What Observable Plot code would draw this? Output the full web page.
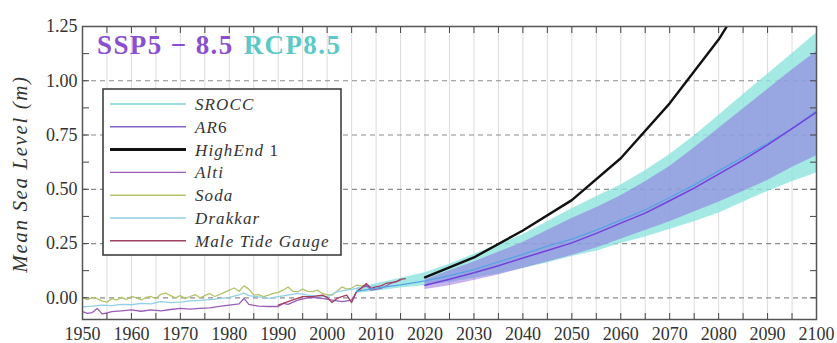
<!DOCTYPE html>
<html>
<head>
<meta charset="utf-8">
<script src="https://cdn.jsdelivr.net/npm/d3@7"></script>
<script src="https://cdn.jsdelivr.net/npm/@observablehq/plot@0.6"></script>
<style>
  body { margin: 0; background: #fff; }
  svg { display: block; }
</style>
</head>
<body>
<div id="chart"></div>
<script>
// ---- Observed / reanalysis sea level (m) ----
const sodaYears = [1950,1951,1952,1953,1954,1955,1956,1957,1958,1959,1960,1961,1962,1963,1964,1965,1966,1967,1968,1969,1970,1971,1972,1973,1974,1975,1976,1977,1978,1979,1980,1981,1982,1983,1984,1985,1986,1987,1988,1989,1990,1991,1992,1993,1994,1995,1996,1997,1998,1999,2000,2001,2002,2003,2004,2005,2006,2007,2008];
const sodaValues = [0.000,-0.008,0.002,-0.004,-0.015,-0.020,-0.004,-0.010,0.002,-0.008,0.006,0.000,-0.010,0.002,0.006,-0.004,0.016,0.022,0.010,0.000,0.010,-0.004,0.006,0.015,0.000,0.010,0.020,0.006,0.015,0.025,0.035,0.045,0.030,0.055,0.040,0.012,0.015,0.005,0.012,0.020,0.025,0.035,0.050,0.030,0.028,0.040,0.030,0.028,0.035,0.020,0.014,0.012,0.030,0.050,0.040,0.045,0.058,0.055,0.058];

const drakkarYears = [1950,1952,1954,1956,1958,1960,1962,1964,1966,1968,1970,1972,1974,1976,1978,1980,1982,1983,1984,1986,1988,1990,1992,1994,1996,1998,2000,2002,2004,2006,2008,2010];
const drakkarValues = [-0.042,-0.038,-0.034,-0.036,-0.030,-0.032,-0.026,-0.028,-0.018,-0.022,-0.020,-0.014,-0.012,-0.008,-0.004,0.002,0.014,0.022,0.010,0.004,-0.003,0.005,0.012,0.020,0.012,0.008,0.005,0.028,0.035,0.043,0.050,0.055];

const altiYears = [1950,1951,1952,1953,1954,1955,1956,1958,1960,1962,1964,1966,1968,1970,1972,1974,1976,1978,1980,1982,1983,1984,1985,1986,1988,1990,1991,1992,1994,1996,1997,1999,2001,2003,2005,2006,2007,2008,2009,2011,2013,2015];
const altiValues = [-0.064,-0.072,-0.068,-0.049,-0.074,-0.070,-0.064,-0.060,-0.056,-0.062,-0.056,-0.060,-0.054,-0.049,-0.052,-0.049,-0.046,-0.040,-0.034,-0.028,-0.003,-0.030,-0.035,-0.038,-0.040,-0.040,-0.026,-0.030,-0.011,0.000,0.002,-0.003,-0.011,-0.018,-0.011,0.028,0.045,0.058,0.035,0.043,0.066,0.081];

const maleYears = [1990,1991,1992,1993,1995,1997,1999,2000,2001,2002,2003,2004,2005,2006,2007,2008,2009,2010,2011,2012,2013,2014,2015,2016];
const maleValues = [-0.034,-0.026,-0.018,-0.010,0.005,0.005,0.012,0.002,-0.022,-0.003,0.005,0.012,-0.022,0.028,0.045,0.066,0.043,0.050,0.055,0.066,0.070,0.073,0.085,0.088];

// ---- Projections (m) ----
const sroccYears = [2006,2010,2015,2020,2025,2030,2035,2040,2045,2050,2055,2060,2065,2070,2075,2080,2085,2090,2095,2100];
const sroccMedian = [0.030,0.045,0.060,0.078,0.102,0.130,0.165,0.200,0.238,0.270,0.312,0.358,0.405,0.462,0.520,0.585,0.648,0.712,0.780,0.860];
const sroccLow = [0.020,0.030,0.045,0.055,0.070,0.090,0.110,0.135,0.160,0.190,0.215,0.250,0.280,0.315,0.350,0.390,0.440,0.490,0.535,0.575];
const sroccHigh = [0.045,0.065,0.090,0.115,0.155,0.200,0.245,0.290,0.350,0.410,0.465,0.520,0.585,0.660,0.745,0.840,0.935,1.030,1.125,1.220];

const ar6Years = [2020,2025,2030,2035,2040,2045,2050,2055,2060,2065,2070,2075,2080,2085,2090,2095,2100];
const ar6Median = [0.058,0.085,0.115,0.148,0.183,0.218,0.253,0.297,0.344,0.390,0.447,0.505,0.570,0.634,0.705,0.780,0.855];
const ar6Low = [0.038,0.055,0.080,0.105,0.135,0.165,0.195,0.230,0.270,0.310,0.350,0.395,0.440,0.490,0.540,0.600,0.655];
const ar6High = [0.082,0.125,0.165,0.210,0.255,0.310,0.365,0.415,0.470,0.535,0.605,0.690,0.780,0.870,0.960,1.050,1.135];

const highEndYears = [2020,2030,2040,2050,2060,2070,2080,2090,2100];
const highEndValues = [0.094,0.186,0.310,0.450,0.643,0.896,1.190,1.550,1.950];

// ---- Axis ticks ----
const xTickLabels = d3.range(1950, 2101, 10);
const xTickMarks = d3.range(1950, 2101, 5);
const yTickLabels = [0, 0.25, 0.5, 0.75, 1.0, 1.25];
const yTickMarks = d3.range(0, 1.2501, 0.125);
const yGrid = [0, 0.25, 0.5, 0.75, 1.0];

// ---- Colours ----
const colors = {
  srocc: "#7dd4d6", sroccBand: "#8fe3de", sroccLine: "#5aa2e6",
  ar6: "#8466c8", ar6Band: "#8a5ee0", ar6Line: "#7440dc",
  highEnd: "#111111", alti: "#9a5cb8", soda: "#b3c46a",
  drakkar: "#92cfe9", male: "#a0405e"
};

const rows = (ys, vs) => ys.map((year, i) => ({year, value: vs[i]}));
const bands = (ys, lo, hi) => ys.map((year, i) => ({year, lo: lo[i], hi: hi[i]}));

const serif = "'Liberation Serif', 'DejaVu Serif', serif";

const chart = Plot.plot({
  width: 837,
  height: 343,
  marginLeft: 82,
  marginRight: 21,
  marginTop: 26,
  marginBottom: 24,
  style: {fontFamily: serif, fontSize: "18px", color: "#333", background: "#fff"},
  x: {domain: [1950, 2100]},
  y: {domain: [-0.1, 1.25]},
  marks: [
    Plot.gridX({ticks: xTickMarks, stroke: "#dcdcdc", strokeOpacity: 1, strokeWidth: 1}),
    Plot.gridY({ticks: yGrid, stroke: "#8c8c8c", strokeOpacity: 1, strokeWidth: 1.2, strokeDasharray: "5,4"}),
    Plot.areaY(bands(sroccYears, sroccLow, sroccHigh), {x: "year", y1: "lo", y2: "hi", fill: colors.sroccBand, fillOpacity: 0.8}),
    Plot.areaY(bands(ar6Years, ar6Low, ar6High), {x: "year", y1: "lo", y2: "hi", fill: colors.ar6Band, fillOpacity: 0.47}),
    Plot.line(rows(sodaYears, sodaValues), {x: "year", y: "value", stroke: colors.soda, strokeWidth: 1.3}),
    Plot.line(rows(drakkarYears, drakkarValues), {x: "year", y: "value", stroke: colors.drakkar, strokeWidth: 1.3}),
    Plot.line(rows(altiYears, altiValues), {x: "year", y: "value", stroke: colors.alti, strokeWidth: 1.3}),
    Plot.line(rows(maleYears, maleValues), {x: "year", y: "value", stroke: colors.male, strokeWidth: 1.3}),
    Plot.line(rows(sroccYears, sroccMedian), {x: "year", y: "value", stroke: colors.sroccLine, strokeWidth: 1.3}),
    Plot.line(rows(ar6Years, ar6Median), {x: "year", y: "value", stroke: colors.ar6Line, strokeWidth: 1.5}),
    Plot.line(rows(highEndYears, highEndValues), {x: "year", y: "value", stroke: colors.highEnd, strokeWidth: 2.4, clip: true}),
    // inward tick marks on all four sides
    Plot.axisX({ticks: xTickMarks, tickSize: -6, fill: "none", stroke: "#444", label: null}),
    Plot.axisX({anchor: "top", ticks: xTickMarks, tickSize: -6, fill: "none", stroke: "#444", label: null}),
    Plot.axisY({ticks: yTickMarks, tickSize: -7, fill: "none", stroke: "#444", label: null}),
    Plot.axisY({anchor: "right", ticks: yTickMarks, tickSize: -7, fill: "none", stroke: "#444", label: null}),
    // tick labels
    Plot.axisX({ticks: xTickLabels, tickSize: 0, tickPadding: 8, tickFormat: "d", fill: "#333", label: null}),
    Plot.axisY({ticks: yTickLabels, tickSize: 0, tickPadding: 5, tickFormat: d3.format(".2f"), fill: "#333", label: null}),
    Plot.frame({stroke: "#555", strokeWidth: 1.5})
  ]
});

document.getElementById("chart").append(chart);

// ---- Overlays: axis title, scenario title, legend ----
const svg = d3.select(chart);

svg.append("text")
  .attr("transform", "translate(27,174) rotate(-90)")
  .attr("text-anchor", "middle")
  .attr("font-family", serif)
  .attr("font-style", "italic")
  .attr("font-size", 21)
  .attr("letter-spacing", 1.6)
  .attr("fill", "#333")
  .text("Mean Sea Level (m)");

const title = svg.append("text")
  .attr("x", 97).attr("y", 54)
  .attr("text-anchor", "start")
  .attr("font-family", serif)
  .attr("font-weight", "bold")
  .attr("font-size", 27)
  .attr("letter-spacing", 1.4);
title.append("tspan").attr("fill", "#8a4fd0").text("SSP5 − 8.5");
title.append("tspan").attr("fill", "#5cc9c9").attr("dx", 10).text("RCP8.5");

const legendItems = [
  {parts: [["SROCC", true]], color: colors.srocc, width: 1.6},
  {parts: [["AR", true], ["6", false]], color: colors.ar6, width: 1.4},
  {parts: [["HighEnd", true], [" 1", false]], color: colors.highEnd, width: 3},
  {parts: [["Alti", true]], color: colors.alti, width: 1.4},
  {parts: [["Soda", true]], color: colors.soda, width: 1.4},
  {parts: [["Drakkar", true]], color: colors.drakkar, width: 1.6},
  {parts: [["Male Tide Gauge", true]], color: colors.male, width: 1.4}
];

const legend = svg.append("g");
legend.append("rect")
  .attr("x", 103).attr("y", 89)
  .attr("width", 238).attr("height", 166)
  .attr("fill", "#fff")
  .attr("stroke", "#333")
  .attr("stroke-width", 1.5);

legendItems.forEach((d, i) => {
  const cy = 104 + i * 22.8;
  legend.append("line")
    .attr("x1", 110).attr("x2", 186)
    .attr("y1", cy).attr("y2", cy)
    .attr("stroke", d.color)
    .attr("stroke-width", d.width);
  const t = legend.append("text")
    .attr("x", 195).attr("y", cy + 6)
    .attr("text-anchor", "start")
    .attr("font-family", serif)
    .attr("font-size", 17)
    .attr("letter-spacing", 1.1)
    .attr("fill", "#333");
  d.parts.forEach(([s, italic]) => {
    t.append("tspan").attr("font-style", italic ? "italic" : "normal").text(s);
  });
});
</script>
</body>
</html>
